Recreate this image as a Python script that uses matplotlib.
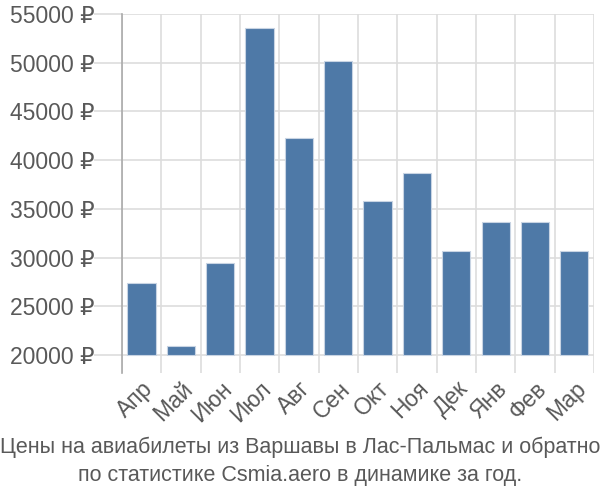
import numpy as np
import matplotlib.pyplot as plt
from matplotlib.ticker import FixedLocator

plt.rcParams['font.family'] = ['Liberation Sans', 'DejaVu Sans']

months = ['Апр', 'Май', 'Июн', 'Июл', 'Авг', 'Сен', 'Окт', 'Ноя', 'Дек', 'Янв', 'Фев', 'Мар']
prices = [27400, 20900, 29450, 53600, 42300, 50200, 35800, 38700, 30650, 33600, 33600, 30650]
yticks = [20000, 25000, 30000, 35000, 40000, 45000, 50000, 55000]
title_lines = ['Цены на авиабилеты из Варшавы в Лас-Пальмас и обратно',
               'по статистике Csmia.aero в динамике за год.']

grid_c = '#dddddd'
text_c = '#595959'
base = 20000

fig = plt.figure(figsize=(6, 5), dpi=100)
ax = fig.add_axes([0.2033, 0.254, 0.7867, 0.718])

x = np.arange(len(months))
ax.bar(x, np.array(prices) - base, bottom=base, width=0.72,
       color='#4e79a7', edgecolor='#c8d4e3', linewidth=0.8, zorder=3)

ax.set_xlim(-0.5, len(months) - 0.5)
ax.set_ylim(18150, 55000)

ax.set_yticks(yticks)
ax.set_yticklabels(['%d ₽' % v for v in yticks], fontsize=16.5, color=text_c)
ax.tick_params(axis='y', length=20, width=1.2, color=grid_c, pad=0)

ax.set_xticks(x)
ax.set_xticklabels(months, rotation=45, ha='right', va='top', rotation_mode='anchor',
                   fontsize=16.5, color=text_c)
ax.tick_params(axis='x', which='major', length=0, pad=3)
ax.xaxis.set_minor_locator(FixedLocator(np.arange(-0.5, len(months), 1.0)))
ax.tick_params(axis='x', which='minor', length=0)

ax.grid(axis='y', which='major', color=grid_c, linewidth=1.2, zorder=0)
ax.grid(axis='x', which='minor', color=grid_c, linewidth=1.2, zorder=0)

for s in ['top', 'right', 'bottom']:
    ax.spines[s].set_visible(False)
ax.spines['left'].set_color('#aaaaaa')
ax.spines['left'].set_linewidth(1.2)

fig.text(0.5, 1 - 447 / 500, title_lines[0], ha='center', va='center',
         fontsize=15.5, color=text_c)
fig.text(0.5, 1 - 475 / 500, title_lines[1], ha='center', va='center',
         fontsize=15.5, color=text_c)

fig.savefig('out.png', dpi=100)
